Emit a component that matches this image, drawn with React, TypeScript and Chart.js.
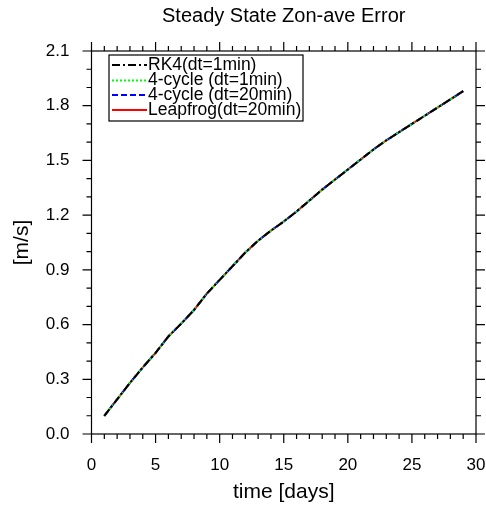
import React, { useEffect, useRef } from "react";
import { Chart, registerables } from "chart.js";

Chart.register(...registerables);

const days = [1, 2, 3, 4, 5, 6, 7, 8, 9, 10, 11, 12, 13, 14, 15, 16, 17, 18, 19, 20, 21, 22, 23, 24, 25, 26, 27, 28, 29];
const rk4 = [0.1, 0.19, 0.28, 0.365, 0.445, 0.535, 0.605, 0.68, 0.77, 0.845, 0.92, 0.995, 1.06, 1.115, 1.165, 1.22, 1.28, 1.34, 1.395, 1.45, 1.505, 1.56, 1.61, 1.655, 1.7, 1.745, 1.79, 1.835, 1.88];
const cycle4_1 = [0.1, 0.19, 0.28, 0.365, 0.445, 0.535, 0.605, 0.68, 0.77, 0.845, 0.92, 0.995, 1.06, 1.115, 1.165, 1.22, 1.28, 1.34, 1.395, 1.45, 1.505, 1.56, 1.61, 1.655, 1.7, 1.745, 1.79, 1.835, 1.88];
const cycle4_20 = [0.1, 0.19, 0.28, 0.365, 0.445, 0.535, 0.605, 0.68, 0.77, 0.845, 0.92, 0.995, 1.06, 1.115, 1.165, 1.22, 1.28, 1.34, 1.395, 1.45, 1.505, 1.56, 1.61, 1.655, 1.7, 1.745, 1.79, 1.835, 1.88];
const leapfrog = [0.1, 0.19, 0.28, 0.365, 0.445, 0.535, 0.605, 0.68, 0.77, 0.845, 0.92, 0.995, 1.06, 1.115, 1.165, 1.22, 1.28, 1.34, 1.395, 1.45, 1.505, 1.56, 1.61, 1.655, 1.7, 1.745, 1.79, 1.835, 1.88];

const seriesLabels = ["RK4(dt=1min)", "4-cycle (dt=1min)", "4-cycle (dt=20min)", "Leapfrog(dt=20min)"];
const seriesColors = ["#000000", "#00ff00", "#0000ff", "#ff0000"];
const seriesDashes = [[8, 3, 2, 3], [2, 2], [6, 3], []];
const seriesValues = [rk4, cycle4_1, cycle4_20, leapfrog];
const chartTitle = "Steady State Zon-ave Error";

const FONT = "'Liberation Sans', Arial, Helvetica, sans-serif";

const framePlugin = {
  id: "ncl-frame",
  afterDraw(chart: any) {
    const { ctx, chartArea } = chart;
    const { left, right, top, bottom } = chartArea;
    const xs = chart.scales.x;
    const ys = chart.scales.y;
    ctx.save();
    // title centred over the plot area
    ctx.fillStyle = "#000";
    ctx.font = `20px ${FONT}`;
    ctx.textAlign = "center";
    ctx.textBaseline = "middle";
    ctx.fillText(chartTitle, (left + right) / 2, 16);

    ctx.strokeStyle = "#000";
    ctx.lineWidth = 1.2;
    ctx.setLineDash([]);
    ctx.strokeRect(left, top, right - left, bottom - top);
    const major = 9;
    const minor = 5;
    ctx.beginPath();
    for (let v = 0; v <= 30; v += 1) {
      const px = xs.getPixelForValue(v);
      const len = v % 5 === 0 ? major : minor;
      ctx.moveTo(px, bottom);
      ctx.lineTo(px, bottom + len);
      ctx.moveTo(px, top);
      ctx.lineTo(px, top - len);
    }
    for (let i = 0; i <= 21; i++) {
      const v = i / 10;
      const py = ys.getPixelForValue(v);
      const len = i % 3 === 0 ? major : minor;
      ctx.moveTo(left, py);
      ctx.lineTo(left - len, py);
      ctx.moveTo(right, py);
      ctx.lineTo(right + len, py);
    }
    ctx.stroke();

    // legend box
    const bx = 109, by = 55, bw = 194, bh = 66;
    ctx.fillStyle = "#fff";
    ctx.fillRect(bx, by, bw, bh);
    ctx.lineWidth = 1.2;
    ctx.strokeRect(bx, by, bw, bh);
    const rows = [65, 80.5, 95, 110];
    ctx.font = `17.5px ${FONT}`;
    ctx.textBaseline = "middle";
    ctx.textAlign = "left";
    chart.data.datasets.forEach((ds: any, i: number) => {
      const y = rows[i];
      ctx.beginPath();
      ctx.strokeStyle = ds.borderColor;
      ctx.lineWidth = 2;
      ctx.setLineDash(ds.borderDash || []);
      ctx.moveTo(112, y);
      ctx.lineTo(147, y);
      ctx.stroke();
      ctx.setLineDash([]);
      ctx.fillStyle = "#000";
      ctx.fillText(ds.label, 148, y);
    });
    ctx.restore();
  },
};

export default function App() {
  const ref = useRef<HTMLCanvasElement>(null);
  useEffect(() => {
    if (!ref.current) return;
    Chart.defaults.font.family = FONT;
    const chart = new Chart(ref.current, {
      type: "line",
      data: {
        datasets: seriesValues.map((vals, i) => ({
          label: seriesLabels[i],
          data: days.map((d, j) => ({ x: d, y: vals[j] })),
          borderColor: seriesColors[i],
          borderDash: seriesDashes[i],
          borderWidth: 2,
          pointRadius: 0,
          tension: 0,
          fill: false,
        })),
      },
      options: {
        responsive: false,
        animation: false,
        layout: { autoPadding: false, padding: { left: 0, right: 10, top: 51, bottom: 0 } },
        plugins: {
          legend: { display: false },
          tooltip: { enabled: false },
          title: { display: false },
        },
        scales: {
          x: {
            type: "linear",
            min: 0,
            max: 30,
            grid: { display: false, drawTicks: false },
            border: { display: false },
            ticks: {
              stepSize: 5,
              padding: 21,
              color: "#000",
              font: { size: 17, family: FONT, lineHeight: 1.2 },
              maxRotation: 0,
            },
            title: {
              display: true,
              text: "time [days]",
              color: "#000",
              font: { size: 21, family: FONT, lineHeight: 1.2 },
              padding: { top: 0, bottom: 3 },
            },
            afterFit: (s: any) => {
              s.height = 74;
              s.paddingLeft = 0;
              s.paddingRight = 0;
            },
          },
          y: {
            type: "linear",
            min: 0,
            max: 2.1,
            grid: { display: false, drawTicks: false },
            border: { display: false },
            ticks: {
              stepSize: 0.3,
              padding: 22,
              color: "#000",
              font: { size: 17, family: FONT, lineHeight: 1.2 },
              callback: (v: any) => Number(v).toFixed(1),
            },
            title: {
              display: true,
              text: "[m/s]",
              color: "#000",
              font: { size: 21, family: FONT, lineHeight: 1.2 },
              padding: { top: 10, bottom: 0 },
            },
            afterFit: (s: any) => {
              s.width = 91.5;
              s.paddingTop = 0;
              s.paddingBottom = 0;
            },
          },
        },
      },
      plugins: [framePlugin],
    });
    return () => chart.destroy();
  }, []);
  return (
    <div style={{ position: "absolute", left: 0, top: 0, width: 486, height: 508, background: "#fff" }}>
      <canvas ref={ref} width={486} height={508} style={{ width: 486, height: 508, display: "block" }} />
    </div>
  );
}
